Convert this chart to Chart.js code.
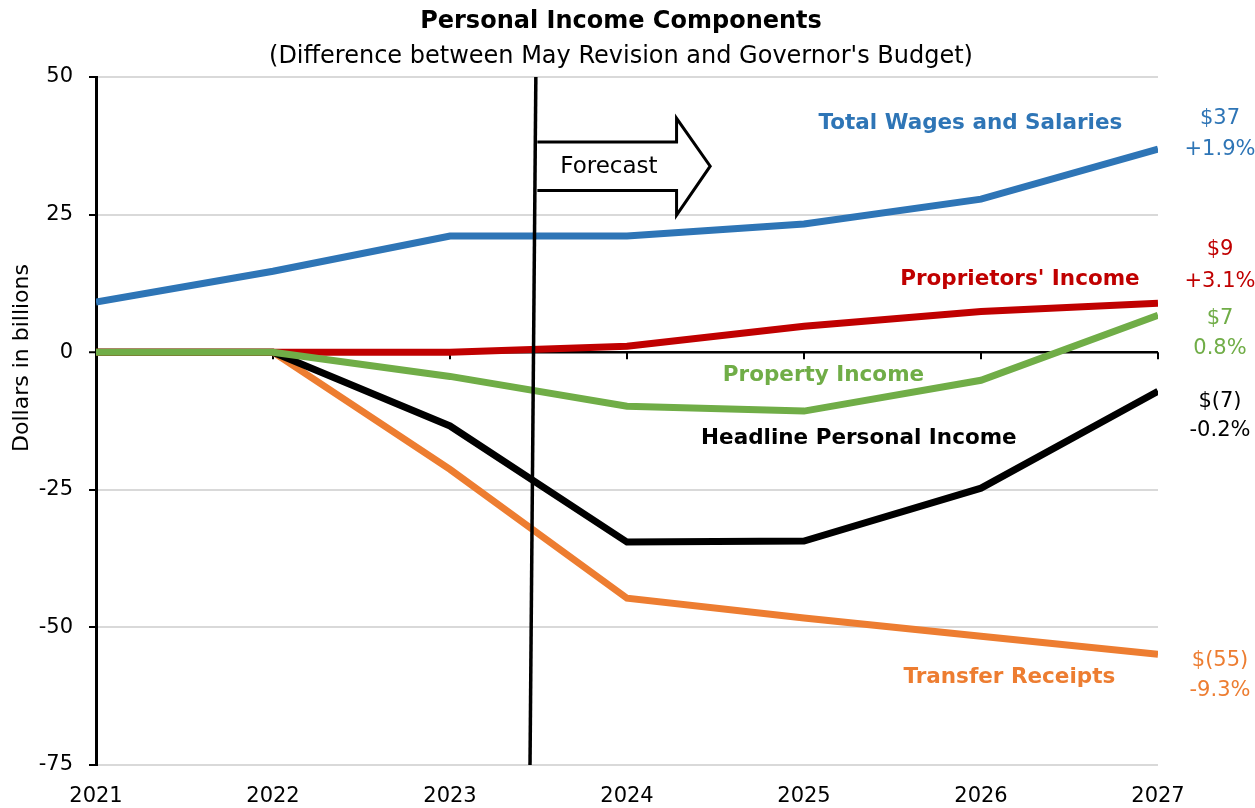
<!DOCTYPE html>
<html>
<head>
<meta charset="utf-8">
<script src="https://cdn.jsdelivr.net/npm/chart.js@4.4.1/dist/chart.umd.min.js"></script>
<style>
  html, body { margin: 0; padding: 0; background: #fff; }
  #wrap { width: 1255px; height: 808px; }
</style>
</head>
<body>
<div id="wrap"><canvas id="incomeChart" width="1255" height="808"></canvas></div>
<script>
// data (billions of dollars)
var years = [2021, 2022, 2023, 2024, 2025, 2026, 2027];
var wages = [9.1, 14.7, 21.1, 21.1, 23.3, 27.8, 36.9];
var proprietors = [0, 0, 0, 1.1, 4.7, 7.4, 8.9];
var property = [0, 0, -4.4, -9.8, -10.7, -5.1, 6.7];
var headline = [0, 0, -13.4, -34.5, -34.3, -24.7, -7.1];
var transfers = [0, 0, -21.3, -44.7, -48.3, -51.6, -54.9];
var yTicks = [50, 25, 0, -25, -50, -75];
var forecastTop = 2023.485, forecastBottom = 2023.452;

var FONT = "'DejaVu Sans', sans-serif";
var BLUE = '#2E75B6', RED = '#C00000', GREEN = '#70AD47', ORANGE = '#ED7D31';

function toPoints(values) {
  return values.map(function(v, i) { return {x: years[i], y: v}; });
}

// series names placed near their lines, end-of-line value labels on the right
var seriesLabels = [
  {text: 'Total Wages and Salaries', x: 2025.94, y: 41.6, color: BLUE},
  {text: "Proprietors' Income", x: 2026.22, y: 13.3, color: RED},
  {text: 'Property Income', x: 2025.11, y: -4.2, color: GREEN},
  {text: 'Headline Personal Income', x: 2025.31, y: -15.6, color: '#000'},
  {text: 'Transfer Receipts', x: 2026.16, y: -59.0, color: ORANGE}
];
var endLabels = [
  {lines: ['$37', '+1.9%'], y: [42.5, 36.9], color: BLUE},
  {lines: ['$9', '+3.1%'], y: [18.7, 12.9], color: RED},
  {lines: ['$7', '0.8%'], y: [6.2, 0.7], color: GREEN},
  {lines: ['$(7)', '-0.2%'], y: [-8.9, -14.2], color: '#000'},
  {lines: ['$(55)', '-9.3%'], y: [-56.0, -61.4], color: ORANGE}
];

var decorPlugin = {
  id: 'decor',
  beforeDatasetsDraw: function(chart) {
    var ctx = chart.ctx, xs = chart.scales.x, ys = chart.scales.y;
    var y0 = ys.getPixelForValue(0);
    ctx.save();
    ctx.strokeStyle = '#000';
    ctx.lineWidth = 2;
    years.forEach(function(yr) {
      var px = xs.getPixelForValue(yr);
      ctx.beginPath();
      ctx.moveTo(px, y0);
      ctx.lineTo(px, y0 + 7);
      ctx.stroke();
    });
    ctx.restore();
  },
  afterDatasetsDraw: function(chart) {
    var ctx = chart.ctx, xs = chart.scales.x, ys = chart.scales.y;
    ctx.save();

    // forecast arrow, open on the left where the forecast line closes it
    var left = xs.getPixelForValue(forecastTop) + 1.5;
    var bodyRight = xs.getPixelForValue(2024.28);
    var tip = xs.getPixelForValue(2024.47);
    var bTop = ys.getPixelForValue(38.2), bBot = ys.getPixelForValue(29.4);
    var hTop = ys.getPixelForValue(42.5), hBot = ys.getPixelForValue(24.9);
    var mid = ys.getPixelForValue(33.8);
    ctx.beginPath();
    ctx.moveTo(left, bTop);
    ctx.lineTo(bodyRight, bTop);
    ctx.lineTo(bodyRight, hTop);
    ctx.lineTo(tip, mid);
    ctx.lineTo(bodyRight, hBot);
    ctx.lineTo(bodyRight, bBot);
    ctx.lineTo(left, bBot);
    ctx.fillStyle = '#fff';
    ctx.fill();
    ctx.strokeStyle = '#000';
    ctx.lineWidth = 3;
    ctx.stroke();
    ctx.fillStyle = '#000';
    ctx.font = '23px ' + FONT;
    ctx.textAlign = 'center';
    ctx.textBaseline = 'middle';
    ctx.fillText('Forecast', (left + bodyRight) / 2 + 2, mid + 1);

    // series names
    ctx.font = 'bold 21.5px ' + FONT;
    seriesLabels.forEach(function(l) {
      ctx.fillStyle = l.color;
      ctx.fillText(l.text, xs.getPixelForValue(l.x), ys.getPixelForValue(l.y));
    });

    // values at the right
    ctx.font = '21px ' + FONT;
    var rx = xs.getPixelForValue(2027) + 62;
    endLabels.forEach(function(l) {
      ctx.fillStyle = l.color;
      l.lines.forEach(function(t, i) {
        ctx.fillText(t, rx, ys.getPixelForValue(l.y[i]));
      });
    });

    // title and subtitle
    ctx.fillStyle = '#000';
    ctx.font = 'bold 24px ' + FONT;
    ctx.fillText('Personal Income Components', 621, 22);
    ctx.font = '24px ' + FONT;
    ctx.fillText("(Difference between May Revision and Governor's Budget)", 621, 57);

    // axis title
    ctx.translate(22, 358);
    ctx.rotate(-Math.PI / 2);
    ctx.font = '22px ' + FONT;
    ctx.fillText('Dollars in billions', 0, 0);
    ctx.restore();
  }
};

var lineStyle = function(label, values, color) {
  return {
    label: label,
    data: toPoints(values),
    borderColor: color,
    backgroundColor: color,
    borderWidth: 7,
    pointRadius: 0,
    tension: 0,
    fill: false
  };
};

var ctx = document.getElementById('incomeChart').getContext('2d');
var incomeChart = new Chart(ctx, {
  type: 'line',
  data: {
    datasets: [
      {
        label: 'Forecast line',
        data: [{x: forecastTop, y: 50}, {x: forecastBottom, y: -75}],
        borderColor: '#000',
        borderWidth: 3.5,
        pointRadius: 0,
        fill: false
      },
      lineStyle('Property Income', property, GREEN),
      lineStyle('Total Wages and Salaries', wages, BLUE),
      lineStyle("Proprietors' Income", proprietors, RED),
      lineStyle('Headline Personal Income', headline, '#000'),
      lineStyle('Transfer Receipts', transfers, ORANGE)
    ]
  },
  options: {
    responsive: false,
    animation: false,
    events: [],
    layout: { padding: { top: 77, right: 97, left: 0, bottom: 0 } },
    plugins: {
      legend: { display: false },
      tooltip: { enabled: false }
    },
    scales: {
      x: {
        type: 'linear',
        min: 2021,
        max: 2027,
        ticks: {
          stepSize: 1,
          color: '#000',
          font: { family: FONT, size: 21 },
          padding: 19,
          callback: function(v) { return String(v); }
        },
        grid: { display: false, drawTicks: false },
        border: { display: false },
        afterFit: function(scale) { scale.height = 43; }
      },
      y: {
        min: -75,
        max: 50,
        afterBuildTicks: function(scale) {
          scale.ticks = yTicks.map(function(v) { return {value: v}; });
        },
        ticks: {
          color: '#000',
          font: { family: FONT, size: 21 },
          padding: 16
        },
        grid: {
          color: function(c) { return c.tick && c.tick.value === 0 ? '#000' : '#d9d9d9'; },
          lineWidth: function(c) { return c.tick && c.tick.value === 0 ? 2.5 : 2; },
          tickColor: '#000',
          tickLength: 7,
          tickWidth: 2
        },
        border: { display: true, color: '#000', width: 3 },
        afterFit: function(scale) { scale.width = 96; }
      }
    }
  },
  plugins: [decorPlugin]
});
</script>
</body>
</html>
